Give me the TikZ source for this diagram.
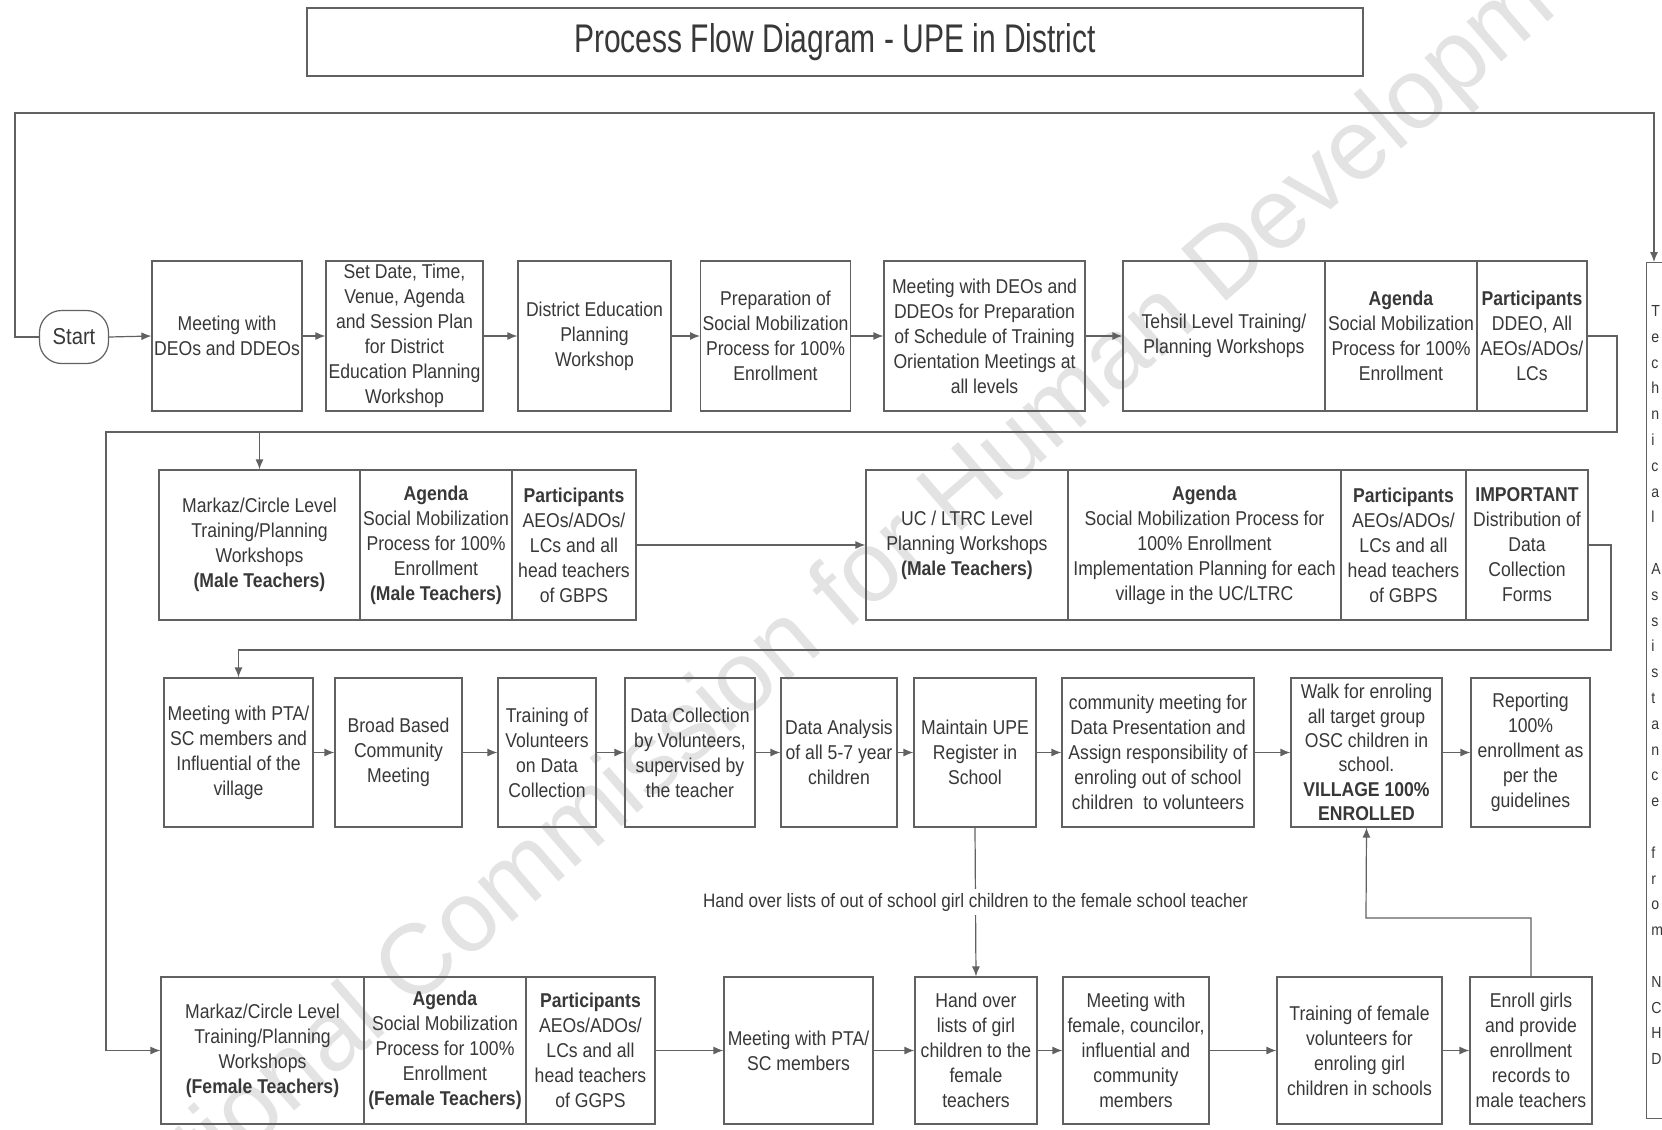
\documentclass[tikz,border=0pt]{standalone}
\usepackage{fontspec}
\setmainfont{Liberation Sans}[FakeStretch=0.88]
\newfontfamily\wmfont{Liberation Sans}
\newfontfamily\titlefont{Liberation Sans}[FakeStretch=0.75]
\usetikzlibrary{arrows.meta}
\definecolor{lc}{gray}{0.38}
\definecolor{tc}{gray}{0.22}
\begin{document}
\begin{tikzpicture}[x=0.5pt,y=-0.5pt,
  font=\fontsize{10}{12.5}\selectfont,
  box/.style={draw=lc, line width=0.6pt, inner sep=1pt, align=center, text=tc},
  r1/.style={box, minimum height=75pt},
  r2/.style={box, minimum height=75pt},
  r3/.style={box, minimum height=74.5pt},
  r4/.style={box, minimum height=73.5pt},
  arr/.style={draw=lc, line width=0.6pt, -{Latex[length=5pt,width=4pt]}},
  ln/.style={draw=lc, line width=0.6pt}]
\useasboundingbox (0,0) rectangle (1662,1130);
\clip (0,0) rectangle (1662,1130);
\fill[white] (0,0) rectangle (1662,1130);

% watermark
\node[rotate=41, text=black!11, font=\wmfont\fontsize{50}{60}\selectfont] (wm) at (872,575) {National Commission for Human Development};

% title
\node[draw=lc, line width=0.9pt, minimum width=528pt, minimum height=34pt, text=tc,
  font=\titlefont\fontsize{20}{24}\selectfont] (title) at (835,42) {Process Flow Diagram - UPE in District};

% start
\node[draw=lc, line width=0.6pt, rounded corners=11pt, minimum width=34.5pt, minimum height=26.5pt, text=tc,
  font=\fontsize{11.5}{13}\selectfont] (start) at (74,337) {Start};

% row 1
\node[r1, minimum width=75pt] (b1) at (227,336) {Meeting with\\DEOs and DDEOs};
\node[r1, minimum width=78.5pt] (b2) at (404.5,336) {Set Date, Time,\\Venue, Agenda\\and Session Plan\\for District\\Education Planning\\Workshop};
\node[r1, minimum width=76.5pt] (b3) at (594.5,336) {District Education\\Planning\\Workshop};
\node[r1, minimum width=74.5pt] (b4) at (775.5,336) {Preparation of\\Social Mobilization\\Process for 100\%\\Enrollment};
\node[r1, minimum width=100.5pt] (b5) at (984.5,336) {Meeting with DEOs and\\DDEOs for Preparation\\of Schedule of Training\\Orientation Meetings at\\all levels};
\node[r1, minimum width=101pt] (b6a) at (1224,336) {Tehsil Level Training/\\Planning Workshops};
\node[r1, minimum width=76pt] (b6b) at (1401,336) {\textbf{Agenda}\\Social Mobilization\\Process for 100\%\\Enrollment};
\node[r1, minimum width=55pt] (b6c) at (1532,336) {\textbf{Participants}\\DDEO, All\\AEOs/ADOs/\\LCs};

% row 2
\node[r2, minimum width=100.5pt] (c1a) at (259.5,545) {Markaz/Circle Level\\Training/Planning\\Workshops\\\textbf{(Male Teachers)}};
\node[r2, minimum width=76pt] (c1b) at (436,545) {\textbf{Agenda}\\Social Mobilization\\Process for 100\%\\Enrollment\\\textbf{(Male Teachers)}};
\node[r2, minimum width=62pt] (c1c) at (574,545) {\textbf{Participants}\\AEOs/ADOs/\\LCs and all\\head teachers\\of GBPS};
\node[r2, minimum width=101pt] (c2a) at (967,545) {UC / LTRC Level\\Planning Workshops\\\textbf{(Male Teachers)}};
\node[r2, minimum width=136.5pt] (c2b) at (1204.5,545) {\textbf{Agenda}\\Social Mobilization Process for\\100\% Enrollment\\Implementation Planning for each\\village in the UC/LTRC};
\node[r2, minimum width=62.5pt] (c2c) at (1403.5,545) {\textbf{Participants}\\AEOs/ADOs/\\LCs and all\\head teachers\\of GBPS};
\node[r2, minimum width=61pt] (c2d) at (1527,545) {\textbf{IMPORTANT}\\Distribution of\\Data\\Collection\\Forms};

% row 3
\node[r3, minimum width=74.5pt] (d1) at (238.5,752.5) {Meeting with PTA/\\SC members and\\Influential of the\\village};
\node[r3, minimum width=63.5pt] (d2) at (398.5,752.5) {Broad Based\\Community\\Meeting};
\node[r3, minimum width=49pt] (d3) at (547,752.5) {Training of\\Volunteers\\on Data\\Collection};
\node[r3, minimum width=65pt] (d4) at (690,752.5) {Data Collection\\by Volunteers,\\supervised by\\the teacher};
\node[r3, minimum width=58pt] (d5) at (839,752.5) {Data Analysis\\of all 5-7 year\\children};
\node[r3, minimum width=61pt] (d6) at (975,752.5) {Maintain UPE\\Register in\\School};
\node[r3, minimum width=96pt] (d7) at (1158,752.5) {community meeting for\\Data Presentation and\\Assign responsibility of\\enroling out of school\\children\ \ to volunteers};
\node[r3, minimum width=75.5pt, font=\fontsize{10}{12.2}\selectfont] (d8) at (1366.5,752.5) {Walk for enroling\\all target group\\OSC children in\\school.\\\textbf{VILLAGE 100\%}\\\textbf{ENROLLED}};
\node[r3, minimum width=59.5pt] (d9) at (1530.5,752.5) {Reporting\\100\%\\enrollment as\\per the\\guidelines};

% row 4
\node[r4, minimum width=101.5pt] (e1a) at (262.5,1050.5) {Markaz/Circle Level\\Training/Planning\\Workshops\\\textbf{(Female Teachers)}};
\node[r4, minimum width=81pt] (e1b) at (445,1050.5) {\textbf{Agenda}\\Social Mobilization\\Process for 100\%\\Enrollment\\\textbf{(Female Teachers)}};
\node[r4, minimum width=64.5pt] (e1c) at (590.5,1050.5) {\textbf{Participants}\\AEOs/ADOs/\\LCs and all\\head teachers\\of GGPS};
\node[r4, minimum width=74.5pt] (e2) at (798.5,1050.5) {Meeting with PTA/\\SC members};
\node[r4, minimum width=61pt] (e3) at (976,1050.5) {Hand over\\lists of girl\\children to the\\female\\teachers};
\node[r4, minimum width=73pt] (e4) at (1136,1050.5) {Meeting with\\female, councilor,\\influential and\\community\\members};
\node[r4, minimum width=82.5pt] (e5) at (1359.5,1050.5) {Training of female\\volunteers for\\enroling girl\\children in schools};
\node[r4, minimum width=61pt] (e6) at (1531,1050.5) {Enroll girls\\and provide\\enrollment\\records to\\male teachers};

% technical assistance box (runs off the right edge)
\node[box, anchor=north west, minimum width=42pt, minimum height=428pt] (tech) at (1646,262) {};
\node[anchor=north west, inner sep=0pt, align=left, text=tc, font=\fontsize{8}{12.9}\selectfont] (techtxt) at (1651,305)
 {T\\e\\c\\h\\n\\i\\c\\a\\l\\ \\A\\s\\s\\i\\s\\t\\a\\n\\c\\e\\ \\f\\r\\o\\m\\ \\N\\C\\H\\D};

% coordinates for bends
\coordinate (lpA) at (15,113);
\coordinate (r1a) at (1617,432);
\coordinate (r1b) at (106,432);
\coordinate (r2a) at (1611,650);
\coordinate (r4a) at (1366,918);

% connectors
\draw[arr] (start.west) -| (lpA) -| ([xshift=4pt]tech.north west);
\draw[arr] (start.east) -- (b1.west);
\draw[arr] (b1.east) -- (b2.west);
\draw[arr] (b2.east) -- (b3.west);
\draw[arr] (b3.east) -- (b4.west);
\draw[arr] (b4.east) -- (b5.west);
\draw[arr] (b5.east) -- (b6a.west);
\draw[arr] (b6c.east) -| (r1a) -- (r1b) |- (e1a.west);
\draw[arr] (c1a.north |- r1a) -- (c1a.north);
\draw[arr] (c1c.east) -- (c2a.west);
\draw[arr] (c2d.east) -| (r2a) -| (d1.north);
\draw[arr] (d1.east) -- (d2.west);
\draw[arr] (d2.east) -- (d3.west);
\draw[arr] (d3.east) -- (d4.west);
\draw[arr] (d4.east) -- (d5.west);
\draw[arr] (d5.east) -- (d6.west);
\draw[arr] (d6.east) -- (d7.west);
\draw[arr] (d7.east) -- (d8.west);
\draw[arr] (d8.east) -- (d9.west);
\draw[arr] (d6.south) -- node[fill=white, text=tc, inner sep=2pt, font=\fontsize{9.7}{12}\selectfont] (holabel)
  {Hand over lists of out of school girl children to the female school teacher} (e3.north);
\draw[arr] (e1c.east) -- (e2.west);
\draw[arr] (e2.east) -- (e3.west);
\draw[arr] (e3.east) -- (e4.west);
\draw[arr] (e4.east) -- (e5.west);
\draw[arr] (e5.east) -- (e6.west);
\draw[arr] (e6.north) |- (r4a) -- (d8.south);
\end{tikzpicture}
\end{document}
